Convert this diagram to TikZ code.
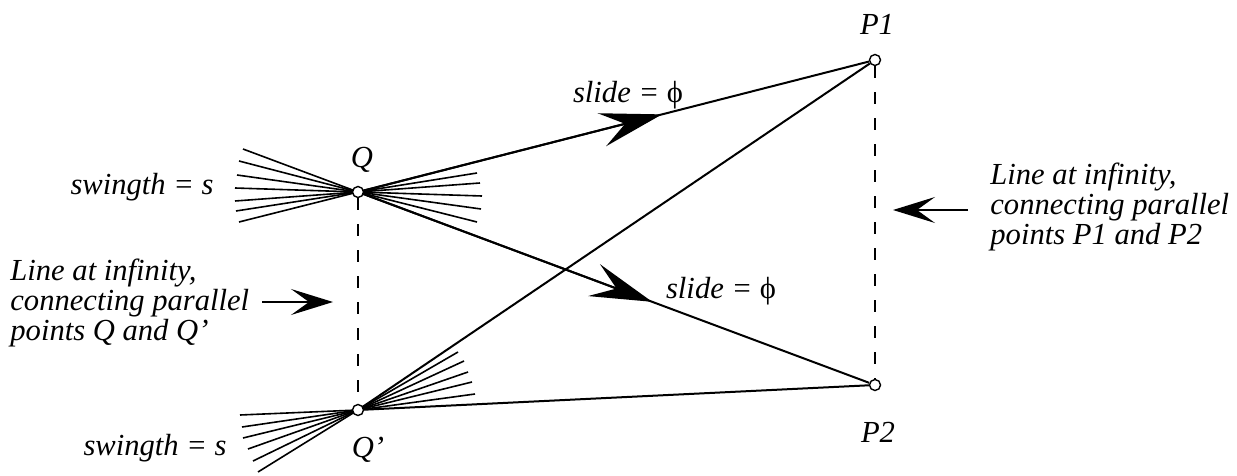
\documentclass[tikz,border=0pt]{standalone}
\usepackage{fontspec}
\setmainfont{Liberation Serif}
\usetikzlibrary{arrows.meta,calc,backgrounds}
\begin{document}
\begin{tikzpicture}[x=0.5pt,y=-0.5pt,
  pnt/.style={circle,draw,fill=white,inner sep=0pt,minimum size=5.5pt,line width=0.7pt},
  ln/.style={line width=1pt},
  fan/.style={line width=0.8pt},
  dsh/.style={line width=0.6pt,dash pattern=on 6pt off 7pt},
  lbl/.style={font=\fontsize{15.3}{15}\selectfont\itshape,inner sep=0pt},
  bigarrow/.style={line width=1pt,-{Stealth[length=31pt,width=17pt,inset=12pt]}},
  smallarrow/.style={line width=0.7pt,-{Stealth[length=21pt,width=13pt,inset=9pt]}}]
\useasboundingbox (0,0) rectangle (1237,476);
% points
\node[pnt] (Q)  at (358,192) {};
\node[pnt] (Q2) at (358,410) {};
\node[pnt] (P1) at (875,60) {};
\node[pnt] (P2) at (875,385) {};
\begin{scope}[on background layer]
% fans
\foreach \dx/\dy in {-115/-43,-119/-31,-121/-17,-123/-4,-123/9,-122/19,-119/30,
                     119/-19,122/-9,124/4,123/17,119/30}
  \draw[fan] (Q.center) -- ++(\dx,\dy);
\foreach \dx/\dy in {-118/5,-116/17,-115/28,-110/39,-105/51,-100/62,
                     100/-58,106/-49,110/-38,114/-28,117/-16}
  \draw[fan] (Q2.center) -- ++(\dx,\dy);
% main lines
\draw[ln] (Q.center) -- (P1);
\draw[ln] (Q.center) -- (P2);
\draw[ln] (Q2.center) -- (P1);
\draw[ln] (Q2.center) -- (P2);
\draw[bigarrow] (Q.center) -- ($(Q.center)!0.588!(P1.center)$);
\draw[bigarrow] (Q.center) -- ($(Q.center)!0.569!(P2.center)$);
% lines at infinity
\draw[dsh] (Q) -- (Q2);
\draw[dsh] (P1) -- (P2);
\end{scope}
% labels
\node[lbl] (lq)  at (362,160) {Q};
\node[lbl] (lq2) at (368,450) {Q’};
\node[lbl] (lp1) at (877,24) {P1};
\node[lbl] (lp2) at (878,432) {P2};
\node[lbl,anchor=east] (sw1) at (214,187) {swingth = s};
\node[lbl,anchor=east] (sw2) at (227,448) {swingth = s};
\node[lbl] (sl1) at (628,95) {slide = {\upshape ϕ}};
\node[lbl] (sl2) at (721,291) {slide = {\upshape ϕ}};
\node[lbl,align=left,anchor=north west] (L1) at (10,259) {Line at infinity,\\connecting parallel\\points Q and Q’};
\node[lbl,align=left,anchor=north west] (L2) at (990,163) {Line at infinity,\\connecting parallel\\points P1 and P2};
\coordinate (a1s) at (262,302);
\coordinate (a1e) at (333,302);
\coordinate (a2s) at (968,210);
\coordinate (a2e) at (893,210);
\draw[smallarrow] (a1s) -- (a1e);
\draw[smallarrow] (a2s) -- (a2e);
\end{tikzpicture}
\end{document}
